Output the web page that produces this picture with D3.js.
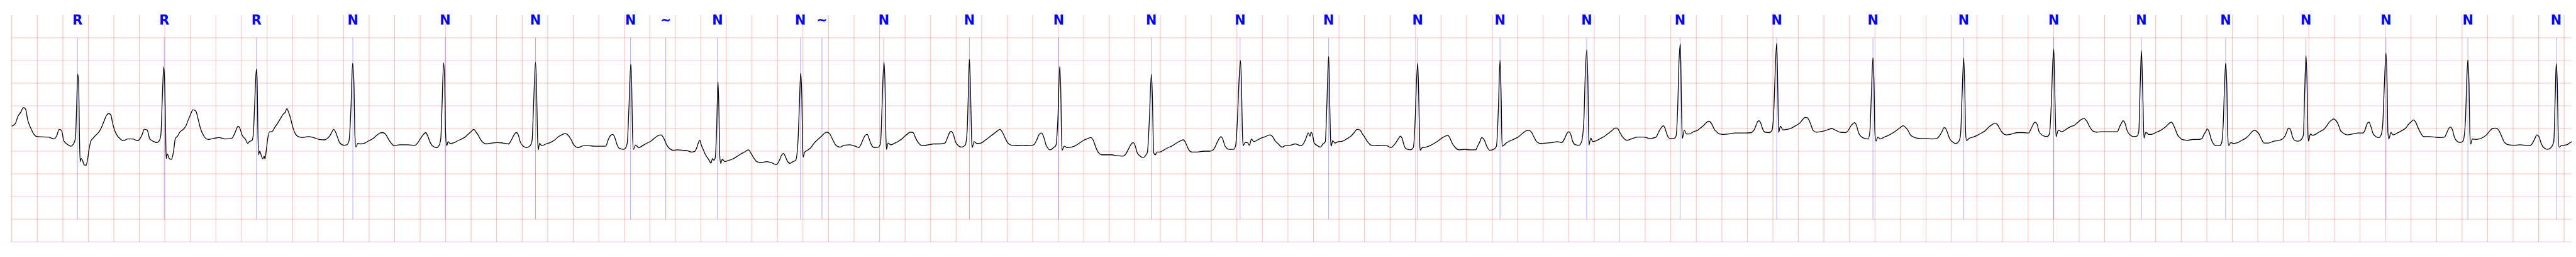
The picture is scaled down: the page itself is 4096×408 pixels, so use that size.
<!DOCTYPE html>
<html><head><meta charset="utf-8">
<script src="https://cdn.jsdelivr.net/npm/d3@7"></script>
<style>html,body{margin:0;padding:0;background:#fff;overflow:hidden}</style>
</head><body>
<svg id="chart" width="4096" height="408"></svg>
<script>
// ---- annotations (time in s, symbol) ----
const annTime = [0.515,1.195,1.917,2.673,3.397,4.104,4.849,5.125,5.530,6.180,6.349,6.834,7.504,8.204,8.930,9.625,10.319,11.017,11.662,12.341,13.073,13.830,14.584,15.295,16.001,16.688,17.348,17.977,18.604,19.246,19.938];
const annSymbol = ["R","R","R","N","N","N","N","~","N","N","~","N","N","N","N","N","N","N","N","N","N","N","N","N","N","N","N","N","N","N","N"];
// ---- grid levels (mV) ----
const yGridLevels = [-2.5,-2.0,-1.5,-1.0,-0.5,0,0.5,1.0,1.5,2.0];
// ---- ECG trace [time s, mV] ----
const ecg1 = [[0.000,0.05],[0.028,0.11],[0.049,0.27],[0.071,0.36],[0.091,0.46],[0.108,0.43],[0.125,0.19],[0.147,0.02],[0.180,-0.15],[0.201,-0.18],[0.288,-0.19],[0.332,-0.23],[0.354,-0.15],[0.371,-0.02],[0.391,-0.05],[0.408,-0.27],[0.441,-0.36],[0.462,-0.39],[0.484,-0.34],[0.499,-0.22],[0.508,0.44],[0.517,1.20],[0.525,0.94],[0.530,-0.07],[0.536,-0.73],[0.543,-0.66],[0.554,-0.70],[0.567,-0.80],[0.582,-0.81],[0.595,-0.67],[0.608,-0.42],[0.621,-0.27],[0.636,-0.22],[0.658,-0.15],[0.680,-0.09],[0.701,0.01],[0.723,0.16],[0.745,0.30],[0.762,0.33],[0.778,0.29],[0.788,0.15],[0.804,-0.02],[0.821,-0.13],[0.854,-0.24],[0.875,-0.27],[0.908,-0.23],[0.951,-0.23],[0.984,-0.27],[1.006,-0.22],[1.021,-0.14],[1.038,-0.02],[1.060,-0.03],[1.082,-0.23],[1.115,-0.29],[1.136,-0.31],[1.158,-0.26],[1.169,-0.12],[1.180,0.69],[1.191,1.36],[1.199,0.94],[1.206,-0.07],[1.210,-0.66],[1.219,-0.56],[1.234,-0.66],[1.251,-0.68],[1.267,-0.52],[1.282,-0.22],[1.299,-0.17],[1.317,-0.08],[1.343,-0.02],[1.365,0.06],[1.386,0.21],[1.404,0.33],[1.419,0.41],[1.441,0.39],[1.462,0.19],[1.478,0.01],[1.506,-0.17],[1.539,-0.24],[1.582,-0.22],[1.625,-0.20],[1.669,-0.23],[1.723,-0.22],[1.745,-0.12],[1.760,-0.02],[1.773,0.05],[1.791,-0.02],[1.804,-0.14],[1.832,-0.24],[1.849,-0.33],[1.865,-0.28],[1.882,-0.27],[1.893,-0.12],[1.904,0.57],[1.917,1.31],[1.923,1.07],[1.928,0.06],[1.934,-0.58],[1.943,-0.50],[1.956,-0.60],[1.967,-0.67],[1.978,-0.61],[1.984,-0.67],[1.995,-0.47],[2.006,-0.22],[2.021,-0.07],[2.038,-0.07],[2.060,0.02],[2.082,0.11],[2.108,0.23],[2.125,0.31],[2.143,0.36],[2.156,0.44],[2.169,0.36],[2.186,0.21],[2.201,0.04],[2.223,-0.12],[2.245,-0.18],[2.278,-0.20],[2.321,-0.18],[2.365,-0.20],[2.408,-0.24],[2.452,-0.25],[2.473,-0.22],[2.495,-0.15],[2.510,-0.07],[2.521,-0.02],[2.538,-0.08],[2.556,-0.22],[2.571,-0.32],[2.604,-0.37],[2.625,-0.36],[2.643,-0.27],[2.658,0.44],[2.671,1.44],[2.682,0.94],[2.688,-0.07],[2.697,-0.41],[2.712,-0.33],[2.734,-0.34],[2.767,-0.32],[2.799,-0.27],[2.832,-0.22],[2.860,-0.15],[2.886,-0.10],[2.908,-0.09],[2.930,-0.13],[2.951,-0.23],[2.973,-0.32],[2.995,-0.38],[3.038,-0.36],[3.104,-0.36],[3.158,-0.37],[3.180,-0.32],[3.201,-0.23],[3.223,-0.14],[3.245,-0.09],[3.260,-0.17],[3.278,-0.30],[3.299,-0.39]];
const ecg2 = [[3.328,-0.42],[3.349,-0.37],[3.362,-0.22],[3.371,0.44],[3.384,1.45],[3.393,0.94],[3.399,-0.07],[3.408,-0.38],[3.419,-0.29],[3.436,-0.33],[3.469,-0.31],[3.501,-0.26],[3.534,-0.22],[3.556,-0.18],[3.578,-0.12],[3.599,-0.07],[3.621,-0.02],[3.636,-0.07],[3.654,-0.14],[3.671,-0.23],[3.693,-0.31],[3.719,-0.34],[3.762,-0.32],[3.806,-0.31],[3.849,-0.32],[3.893,-0.34],[3.914,-0.26],[3.936,-0.14],[3.954,-0.09],[3.969,-0.14],[3.984,-0.29],[4.001,-0.37],[4.034,-0.42],[4.062,-0.38],[4.077,-0.27],[4.088,0.44],[4.104,1.46],[4.112,0.94],[4.119,-0.07],[4.125,-0.47],[4.136,-0.33],[4.154,-0.38],[4.186,-0.34],[4.219,-0.31],[4.251,-0.26],[4.284,-0.18],[4.317,-0.13],[4.338,-0.11],[4.360,-0.15],[4.382,-0.24],[4.404,-0.36],[4.436,-0.42],[4.480,-0.38],[4.523,-0.38],[4.567,-0.39],[4.610,-0.39],[4.654,-0.39],[4.675,-0.24],[4.693,-0.15],[4.708,-0.13],[4.723,-0.18],[4.741,-0.34],[4.762,-0.44],[4.795,-0.46],[4.810,-0.43],[4.823,-0.32],[4.836,0.44],[4.851,1.42],[4.858,0.94],[4.864,-0.07],[4.871,-0.46],[4.888,-0.37],[4.914,-0.42],[4.947,-0.37],[4.980,-0.32],[5.012,-0.27],[5.034,-0.22],[5.056,-0.17],[5.088,-0.14],[5.110,-0.22],[5.132,-0.36],[5.154,-0.44],[5.186,-0.48],[5.219,-0.47],[5.262,-0.48],[5.295,-0.49],[5.328,-0.52],[5.349,-0.51],[5.367,-0.43],[5.380,-0.32],[5.391,-0.26],[5.404,-0.37],[5.419,-0.47],[5.436,-0.58],[5.458,-0.67],[5.480,-0.76],[5.491,-0.66],[5.501,-0.70],[5.512,-0.65],[5.523,-0.07],[5.534,1.03],[5.541,0.44],[5.547,-0.57],[5.556,-0.77],[5.567,-0.68],[5.588,-0.73],[5.610,-0.71],[5.643,-0.68],[5.675,-0.63],[5.708,-0.57],[5.741,-0.52],[5.773,-0.47],[5.795,-0.56],[5.817,-0.66],[5.838,-0.73],[5.871,-0.75],[5.915,-0.73],[5.958,-0.76],[5.991,-0.80],[6.012,-0.72],[6.034,-0.58],[6.049,-0.55],[6.062,-0.62],[6.078,-0.72],[6.099,-0.77],[6.121,-0.73],[6.143,-0.70],[6.160,-0.32],[6.171,0.44],[6.182,1.22],[6.191,0.69],[6.197,-0.32],[6.201,-0.63],[6.214,-0.52],[6.236,-0.48],[6.262,-0.42],[6.288,-0.32],[6.317,-0.24],[6.345,-0.17],[6.371,-0.10],[6.388,-0.08],[6.410,-0.12],[6.432,-0.24],[6.458,-0.37],[6.491,-0.41],[6.523,-0.37],[6.567,-0.36],[6.610,-0.39]];
const ecg3 = [[6.638,-0.42],[6.656,-0.34],[6.671,-0.24],[6.688,-0.15],[6.704,-0.13],[6.717,-0.22],[6.736,-0.36],[6.758,-0.42],[6.791,-0.41],[6.808,-0.32],[6.819,0.44],[6.834,1.47],[6.843,0.94],[6.849,-0.07],[6.854,-0.46],[6.867,-0.32],[6.888,-0.36],[6.921,-0.32],[6.954,-0.27],[6.975,-0.23],[6.997,-0.17],[7.019,-0.12],[7.041,-0.08],[7.062,-0.09],[7.084,-0.22],[7.106,-0.32],[7.138,-0.38],[7.182,-0.36],[7.225,-0.34],[7.269,-0.34],[7.312,-0.32],[7.334,-0.19],[7.351,-0.08],[7.362,-0.06],[7.377,-0.12],[7.395,-0.29],[7.417,-0.38],[7.443,-0.41],[7.471,-0.37],[7.486,-0.07],[7.495,0.69],[7.504,1.53],[7.512,0.94],[7.521,-0.19],[7.525,-0.42],[7.541,-0.29],[7.562,-0.33],[7.595,-0.32],[7.627,-0.26],[7.660,-0.19],[7.693,-0.12],[7.725,-0.05],[7.743,-0.02],[7.764,-0.09],[7.786,-0.22],[7.812,-0.34],[7.856,-0.38],[7.921,-0.37],[7.975,-0.38],[8.008,-0.36],[8.030,-0.26],[8.051,-0.13],[8.069,-0.10],[8.084,-0.17],[8.106,-0.37],[8.138,-0.47],[8.164,-0.42],[8.182,-0.37],[8.197,0.19],[8.212,1.37],[8.221,0.69],[8.225,-0.07],[8.230,-0.48],[8.247,-0.39],[8.269,-0.42],[8.301,-0.41],[8.334,-0.38],[8.367,-0.32],[8.399,-0.26],[8.432,-0.22],[8.454,-0.20],[8.475,-0.26],[8.491,-0.39],[8.512,-0.52],[8.541,-0.58],[8.573,-0.58],[8.617,-0.58],[8.660,-0.60],[8.704,-0.61],[8.730,-0.56],[8.751,-0.45],[8.773,-0.34],[8.788,-0.31],[8.804,-0.39],[8.817,-0.52],[8.838,-0.60],[8.867,-0.64],[8.888,-0.58],[8.899,-0.52],[8.914,0.19],[8.930,1.20],[8.938,0.69],[8.945,-0.32],[8.949,-0.54],[8.960,-0.58],[8.975,-0.52],[8.997,-0.52],[9.030,-0.47],[9.062,-0.42],[9.095,-0.38],[9.127,-0.32],[9.160,-0.27],[9.182,-0.25],[9.199,-0.32],[9.221,-0.46],[9.247,-0.52],[9.290,-0.52],[9.345,-0.50],[9.388,-0.50],[9.421,-0.45],[9.443,-0.32],[9.464,-0.21],[9.475,-0.18],[9.490,-0.24],[9.508,-0.39],[9.540,-0.46],[9.573,-0.46],[9.590,-0.38],[9.604,0.19],[9.617,1.07],[9.628,1.50],[9.636,0.94],[9.643,-0.07],[9.649,-0.38],[9.664,-0.31],[9.682,-0.31],[9.699,-0.37],[9.714,-0.23],[9.732,-0.29],[9.758,-0.26],[9.790,-0.21],[9.823,-0.18],[9.856,-0.14],[9.877,-0.17],[9.899,-0.27],[9.921,-0.33],[9.954,-0.41],[9.986,-0.37]];
const ecg4 = [[10.014,-0.37],[10.058,-0.34],[10.101,-0.38],[10.123,-0.33],[10.141,-0.22],[10.160,-0.10],[10.173,-0.17],[10.182,-0.08],[10.195,-0.17],[10.206,-0.32],[10.232,-0.38],[10.254,-0.41],[10.275,-0.34],[10.293,-0.29],[10.304,0.44],[10.319,1.59],[10.325,0.94],[10.332,-0.07],[10.338,-0.39],[10.351,-0.27],[10.367,-0.32],[10.395,-0.29],[10.428,-0.28],[10.460,-0.23],[10.493,-0.17],[10.519,-0.09],[10.541,-0.02],[10.562,-0.03],[10.584,-0.12],[10.601,-0.19],[10.623,-0.29],[10.656,-0.37],[10.688,-0.38],[10.732,-0.37],[10.775,-0.38],[10.808,-0.42],[10.830,-0.37],[10.851,-0.29],[10.867,-0.22],[10.880,-0.17],[10.895,-0.22],[10.910,-0.37],[10.928,-0.45],[10.960,-0.47],[10.982,-0.42],[10.997,0.19],[11.006,0.94],[11.017,1.44],[11.025,0.69],[11.032,-0.27],[11.036,-0.48],[11.054,-0.42],[11.080,-0.41],[11.112,-0.38],[11.145,-0.33],[11.178,-0.27],[11.206,-0.21],[11.232,-0.17],[11.254,-0.15],[11.271,-0.22],[11.286,-0.32],[11.308,-0.41],[11.341,-0.47],[11.384,-0.46],[11.428,-0.47],[11.471,-0.47],[11.486,-0.39],[11.504,-0.29],[11.519,-0.20],[11.536,-0.24],[11.558,-0.39],[11.580,-0.48],[11.612,-0.46],[11.634,-0.39],[11.649,0.44],[11.662,1.50],[11.671,0.69],[11.678,-0.39],[11.688,-0.38],[11.710,-0.32],[11.743,-0.27],[11.775,-0.23],[11.808,-0.18],[11.841,-0.10],[11.867,-0.05],[11.888,-0.04],[11.910,-0.09],[11.928,-0.19],[11.949,-0.29],[11.982,-0.33],[12.025,-0.32],[12.069,-0.31],[12.112,-0.29],[12.145,-0.31],[12.167,-0.23],[12.184,-0.12],[12.201,-0.07],[12.217,-0.14],[12.232,-0.29],[12.254,-0.36],[12.280,-0.37],[12.301,-0.29],[12.319,0.19],[12.330,1.20],[12.341,1.73],[12.351,0.94],[12.358,-0.37],[12.373,-0.21],[12.388,-0.29],[12.417,-0.27],[12.449,-0.22],[12.482,-0.17],[12.514,-0.10],[12.541,-0.04],[12.562,0.01],[12.580,0.01],[12.601,-0.09],[12.623,-0.19],[12.656,-0.26],[12.699,-0.22],[12.743,-0.19],[12.786,-0.19],[12.841,-0.22],[12.884,-0.19],[12.906,-0.07],[12.923,0.01],[12.941,0.06],[12.954,0.01],[12.971,-0.14],[12.993,-0.22],[13.025,-0.22],[13.041,-0.17],[13.054,0.44],[13.064,1.45],[13.075,1.87],[13.084,0.44],[13.090,-0.22],[13.106,-0.04],[13.123,-0.12],[13.145,-0.12],[13.178,-0.07],[13.210,-0.04],[13.232,0.01],[13.254,0.06],[13.275,0.12],[13.297,0.16],[13.319,0.11],[13.341,-0.02],[13.362,-0.08]];
const ecg5 = [[13.380,-0.12],[13.412,-0.13],[13.456,-0.12],[13.499,-0.10],[13.543,-0.10],[13.586,-0.10],[13.630,-0.09],[13.651,-0.04],[13.667,0.06],[13.680,0.15],[13.691,0.17],[13.706,0.11],[13.721,-0.02],[13.738,-0.08],[13.771,-0.09],[13.793,-0.04],[13.808,0.44],[13.819,1.33],[13.830,1.88],[13.838,0.94],[13.845,-0.09],[13.858,0.05],[13.880,-0.03],[13.912,-0.02],[13.945,0.01],[13.978,0.06],[14.010,0.12],[14.032,0.19],[14.049,0.24],[14.065,0.24],[14.082,0.19],[14.097,0.09],[14.115,-0.04],[14.141,-0.08],[14.173,-0.07],[14.206,-0.05],[14.238,-0.02],[14.260,0.00],[14.293,-0.04],[14.325,-0.08],[14.369,-0.09],[14.391,-0.04],[14.412,0.06],[14.430,0.11],[14.441,0.13],[14.456,0.06],[14.471,-0.09],[14.488,-0.17],[14.521,-0.22],[14.547,-0.23],[14.560,-0.07],[14.571,0.69],[14.584,1.56],[14.593,0.94],[14.599,-0.07],[14.608,-0.28],[14.623,-0.19],[14.641,-0.23],[14.673,-0.19],[14.706,-0.15],[14.738,-0.10],[14.764,-0.05],[14.793,0.01],[14.821,0.06],[14.841,0.02],[14.858,-0.04],[14.880,-0.15],[14.912,-0.20],[14.956,-0.22],[14.999,-0.22],[15.043,-0.23],[15.086,-0.22],[15.108,-0.15],[15.125,-0.07],[15.141,0.02],[15.151,0.01],[15.169,-0.10],[15.184,-0.22],[15.206,-0.29],[15.234,-0.33],[15.260,-0.27],[15.271,-0.12],[15.282,0.69],[15.295,1.56],[15.304,0.82],[15.310,-0.07],[15.317,-0.27],[15.336,-0.22],[15.369,-0.19],[15.401,-0.15],[15.434,-0.10],[15.467,-0.04],[15.495,0.04],[15.521,0.09],[15.538,0.12],[15.558,0.09],[15.575,0.01],[15.597,-0.09],[15.630,-0.14],[15.673,-0.12],[15.717,-0.09],[15.760,-0.09],[15.804,-0.10],[15.821,-0.02],[15.836,0.07],[15.854,0.14],[15.869,0.10],[15.886,-0.07],[15.912,-0.15],[15.945,-0.18],[15.967,-0.12],[15.982,0.57],[15.993,1.45],[16.001,1.75],[16.010,0.69],[16.019,-0.18],[16.036,-0.04],[16.065,-0.07],[16.097,-0.02],[16.130,0.04],[16.162,0.07],[16.191,0.14],[16.217,0.20],[16.238,0.22],[16.260,0.16],[16.282,0.04],[16.304,-0.05],[16.336,-0.08],[16.380,-0.07],[16.423,-0.07],[16.467,-0.07],[16.499,-0.07],[16.517,0.04],[16.532,0.12],[16.543,0.17],[16.560,0.11],[16.575,-0.04],[16.597,-0.14],[16.630,-0.18],[16.652,-0.17],[16.667,-0.07],[16.678,0.94],[16.688,1.72],[16.699,0.69],[16.708,-0.21],[16.721,-0.09],[16.734,-0.10]];
const ecg6 = [[16.741,-0.13],[16.767,-0.13],[16.799,-0.09],[16.832,-0.05],[16.865,0.01],[16.886,0.06],[16.908,0.12],[16.924,0.14],[16.941,0.06],[16.954,-0.02],[16.967,-0.12],[16.984,-0.19],[17.006,-0.24],[17.050,-0.26],[17.093,-0.24],[17.137,-0.24],[17.163,-0.22],[17.176,-0.14],[17.191,-0.07],[17.204,-0.01],[17.220,-0.09],[17.235,-0.24],[17.250,-0.33],[17.272,-0.38],[17.300,-0.38],[17.315,-0.33],[17.328,0.06],[17.339,0.94],[17.348,1.44],[17.357,0.94],[17.363,-0.07],[17.372,-0.38],[17.387,-0.31],[17.409,-0.33],[17.442,-0.31],[17.474,-0.26],[17.507,-0.21],[17.533,-0.14],[17.555,-0.07],[17.572,-0.04],[17.594,-0.07],[17.611,-0.13],[17.629,-0.24],[17.648,-0.32],[17.681,-0.32],[17.725,-0.28],[17.768,-0.26],[17.794,-0.23],[17.812,-0.17],[17.827,-0.07],[17.840,0.01],[17.855,-0.02],[17.870,-0.17],[17.888,-0.26],[17.916,-0.28],[17.942,-0.24],[17.957,-0.14],[17.966,0.69],[17.977,1.61],[17.986,0.94],[17.992,-0.07],[17.997,-0.28],[18.012,-0.12],[18.029,-0.15],[18.051,-0.13],[18.084,-0.07],[18.116,-0.02],[18.138,0.05],[18.160,0.14],[18.182,0.19],[18.193,0.21],[18.214,0.17],[18.230,0.09],[18.247,-0.04],[18.269,-0.10],[18.301,-0.14],[18.345,-0.12],[18.388,-0.10],[18.421,-0.10],[18.439,-0.04],[18.454,0.09],[18.471,0.14],[18.486,0.04],[18.504,-0.12],[18.526,-0.18],[18.547,-0.20],[18.565,-0.15],[18.578,0.06],[18.591,0.94],[18.604,1.66],[18.613,0.94],[18.619,-0.07],[18.626,-0.23],[18.643,-0.09],[18.661,-0.14],[18.693,-0.10],[18.726,-0.05],[18.759,0.01],[18.780,0.09],[18.802,0.15],[18.817,0.19],[18.835,0.15],[18.852,0.04],[18.874,-0.09],[18.900,-0.18],[18.943,-0.18],[18.987,-0.19],[19.031,-0.20],[19.063,-0.19],[19.081,-0.09],[19.096,0.00],[19.109,0.03],[19.126,-0.04],[19.140,-0.19],[19.161,-0.28],[19.187,-0.31],[19.209,-0.27],[19.227,0.19],[19.237,1.07],[19.246,1.51],[19.255,0.94],[19.261,-0.07],[19.268,-0.34],[19.281,-0.23],[19.303,-0.24],[19.335,-0.23],[19.368,-0.19],[19.396,-0.13],[19.418,-0.05],[19.440,0.00],[19.466,0.01],[19.488,-0.04],[19.510,-0.17],[19.531,-0.30],[19.564,-0.36],[19.608,-0.37],[19.651,-0.36],[19.695,-0.37],[19.727,-0.38],[19.753,-0.32],[19.771,-0.22],[19.786,-0.14],[19.803,-0.18],[19.819,-0.32],[19.840,-0.42],[19.869,-0.46],[19.897,-0.42],[19.919,-0.29],[19.930,0.69],[19.938,1.43],[19.947,0.94],[19.953,-0.07],[19.960,-0.41],[19.977,-0.38],[19.999,-0.37],[20.021,-0.36],[20.043,-0.32],[20.060,-0.29]];

const ecg = [].concat(ecg1, ecg2, ecg3, ecg4, ecg5, ecg6);

// ---- layout (reference pixel space, scaled to window) ----
const W = 7522, H = 750;
const svg = d3.select('#chart');
svg.append('rect').attr('width',4096).attr('height',408).attr('fill','#fff');
const g = svg.append('g').attr('transform', `scale(${4096/W},${408/H})`);

const tMax = 20.06;
const x = d3.scaleLinear().domain([0, tMax]).range([34.3, 7509.7]);
const y = d3.scaleLinear().domain([-2.5, 2.5]).range([706, 44]);

const gridColor = 'rgba(255,0,0,0.25)';
// vertical grid every 0.2 s
const xGrid = d3.range(0, 100.5, 1).map(k => k * 0.2);
g.append('g').selectAll('line').data(xGrid).join('line')
  .attr('x1', d => x(d)).attr('x2', d => x(d))
  .attr('y1', y(2.5)).attr('y2', y(-2.5))
  .attr('stroke', gridColor).attr('stroke-width', 2);
// horizontal grid every 0.5 mV
g.append('g').selectAll('line').data(yGridLevels).join('line')
  .attr('x1', x(0)).attr('x2', x(tMax))
  .attr('y1', d => y(d)).attr('y2', d => y(d))
  .attr('stroke', gridColor).attr('stroke-width', 2);

// annotation lines
g.append('g').selectAll('line').data(annTime).join('line')
  .attr('x1', d => x(d)).attr('x2', d => x(d))
  .attr('y1', y(2.0)).attr('y2', y(-2.0))
  .attr('stroke', 'rgba(0,0,255,0.5)').attr('stroke-width', 1.2);

// trace
const line = d3.line().x(d => x(d[0])).y(d => y(d[1])).curve(d3.curveMonotoneX);
g.append('path').datum(ecg).attr('d', line)
  .attr('fill', 'none').attr('stroke', '#000').attr('stroke-width', 2.4)
  .attr('stroke-linejoin', 'round');

// annotation labels
g.append('g').selectAll('text').data(annTime).join('text')
  .attr('x', d => x(d)).attr('y', 71.7)
  .attr('text-anchor', 'middle')
  .attr('font-family', 'DejaVu Sans, sans-serif')
  .attr('font-weight', 'bold')
  .attr('font-size', 38)
  .attr('fill', '#0000ff')
  .text((d, i) => annSymbol[i]);
</script>
</body></html>
